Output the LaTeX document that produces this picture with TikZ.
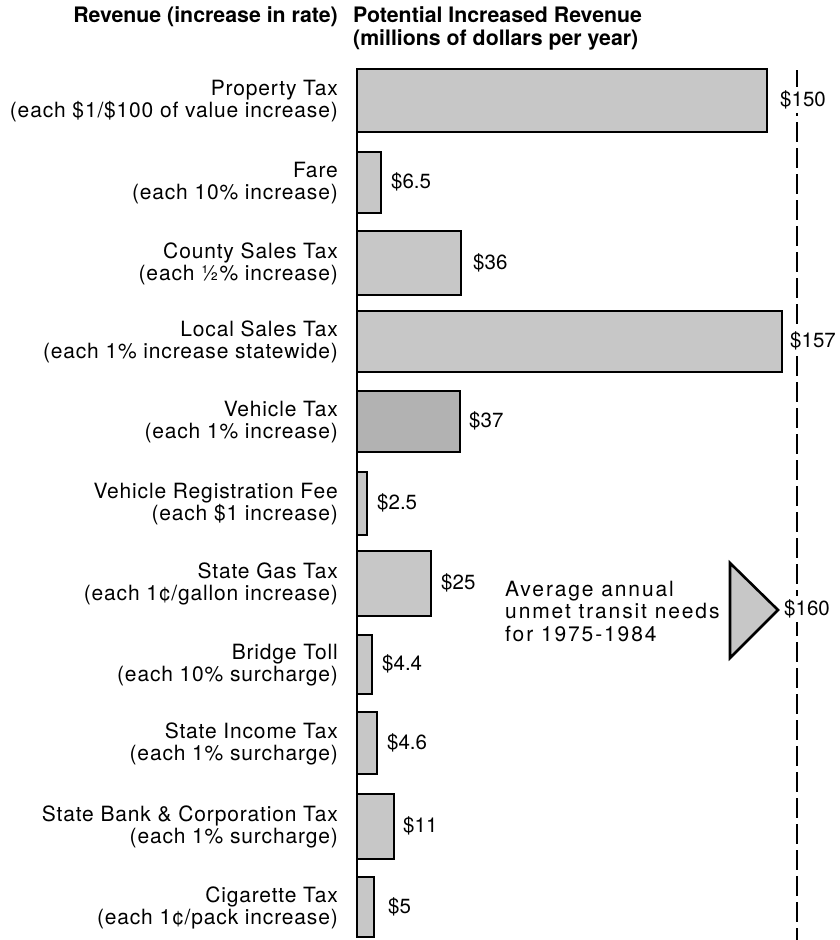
\documentclass[tikz,border=0pt]{standalone}
\usepackage{fontspec}
\setmainfont{TeX Gyre Heros}
\tikzset{
  bar/.style={draw, line width=2.6pt, fill=black!22},
  axisline/.style={line width=2pt},
  needline/.style={line width=2.4pt, dash pattern=on 20pt off 6pt},
  head/.style={inner sep=0pt, font=\fontsize{21.3}{23}\selectfont\bfseries},
  rowlabel/.style={anchor=east, align=right, inner sep=0pt, font=\fontsize{21}{22.5}\selectfont\addfontfeatures{LetterSpace=4}},
  amount/.style={anchor=west, inner sep=0pt, font=\fontsize{20.5}{22}\selectfont},
  gapfill/.style={fill=white, inner ysep=4pt}
}
\begin{document}
\begin{tikzpicture}[x=1pt, y=-1pt]
  \useasboundingbox (0,0) rectangle (839,940);
  \node[head, anchor=base east] (hrev) at (338,22.5) {Revenue (increase in rate)};
  \node[head, anchor=north west, align=left] (hpot) at (353,6) {Potential Increased Revenue\\(millions of dollars per year)};

  \coordinate (ntop) at (797,70);
  \coordinate (nbot) at (797,940);
  \draw[needline] (ntop) -- (nbot);
  \draw[axisline] (357,69) -- (357,937);

  \node[rowlabel] (l1) at (338,101) {Property Tax\\(each \$1/\$100 of value increase)};
  \draw[bar] (357,69) rectangle (767,132);
  \node[amount, gapfill] (v1) at (780,100) {\$150};

  \node[rowlabel] (l2) at (338,183) {Fare\\(each 10\% increase)};
  \draw[bar] (357,152) rectangle (381,213);
  \node[amount] (v2) at (391,182) {\$6.5};

  \node[rowlabel] (l3) at (338,264) {County Sales Tax\\(each ½\% increase)};
  \draw[bar] (357,231) rectangle (461,295);
  \node[amount] (v3) at (473,263) {\$36};

  \node[rowlabel] (l4) at (338,342) {Local Sales Tax\\(each 1\% increase statewide)};
  \draw[bar] (357,311) rectangle (782,372);
  \node[amount, gapfill] (v4) at (790,341) {\$157};

  \node[rowlabel] (l5) at (338,422) {Vehicle Tax\\(each 1\% increase)};
  \draw[bar, fill=black!30] (357,391) rectangle (460,452);
  \node[amount] (v5) at (469,421) {\$37};

  \node[rowlabel] (l6) at (338,504) {Vehicle Registration Fee\\(each \$1 increase)};
  \draw[bar] (357,472) rectangle (367,535);
  \node[amount] (v6) at (377,503) {\$2.5};

  \node[rowlabel] (l7) at (338,584) {State Gas Tax\\(each 1¢/gallon increase)};
  \draw[bar] (357,551) rectangle (431,616);
  \node[amount] (v7) at (441,583) {\$25};

  \node[rowlabel] (l8) at (338,665) {Bridge Toll\\(each 10\% surcharge)};
  \draw[bar] (357,635) rectangle (372,694);
  \node[amount] (v8) at (382,664) {\$4.4};

  \node[rowlabel] (l9) at (338,744) {State Income Tax\\(each 1\% surcharge)};
  \draw[bar] (357,712) rectangle (377,774);
  \node[amount] (v9) at (387,743) {\$4.6};

  \node[rowlabel] (l10) at (338,827) {State Bank \& Corporation Tax\\(each 1\% surcharge)};
  \draw[bar] (357,794) rectangle (394,859);
  \node[amount] (v10) at (403,826) {\$11};

  \node[rowlabel] (l11) at (338,908) {Cigarette Tax\\(each 1¢/pack increase)};
  \draw[bar] (357,877) rectangle (374,937);
  \node[amount] (v11) at (388,907) {\$5};

  \node[rowlabel, anchor=west, align=left, font=\fontsize{21}{22.5}\selectfont\addfontfeatures{LetterSpace=9}] (needs) at (505,611) {Average annual\\unmet transit needs\\for 1975-1984};
  \draw[bar] (730,563) -- (778,610) -- (730,658) -- cycle;
  \node[amount, gapfill] (vneed) at (784,609) {\$160};
\end{tikzpicture}
\end{document}
